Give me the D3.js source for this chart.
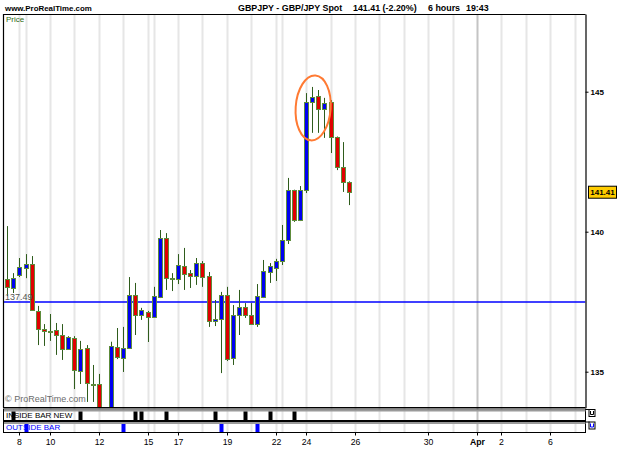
<!DOCTYPE html>
<html><head><meta charset="utf-8">
<script src="https://cdn.jsdelivr.net/npm/d3@7"></script>
<style>
body{margin:0;background:#fff}
svg{display:block}
text{font-family:"Liberation Sans",Arial,sans-serif}
</style>
</head><body>
<svg id="c" width="625" height="469"></svg>
<script>
// ---- data (6-hour GBP/JPY bars, index = bar slot) ----
const opens  = [138.31,137.99,138.45,138.70,138.85,137.17,136.53,136.45,136.49,136.31,135.81,136.20,135.03,135.85,134.56,134.56,133.45,133.30,135.88,135.49,135.85,137.74,137.03,137.13,136.95,137.67,139.78,138.35,138.31,138.78,138.52,138.42,138.88,138.42,136.81,136.88,137.74,135.49,137.03,137.31,137.03,136.70,137.67,138.56,138.70,138.95,139.70,141.49,140.42,141.49,144.63,144.85,144.38,144.63,143.38,142.31,141.78];
const highs  = [140.20,138.52,139.06,139.20,139.13,137.35,136.70,137.06,136.74,136.70,136.27,136.27,136.10,135.95,135.24,134.92,133.70,136.07,136.56,136.60,138.38,138.17,137.28,137.17,138.03,140.06,139.95,138.52,139.20,139.42,138.63,139.06,138.95,138.56,137.56,137.85,138.03,137.38,137.92,137.45,137.45,138.13,138.99,138.88,139.03,140.24,141.92,141.50,141.63,144.95,145.17,145.06,144.78,144.70,143.40,143.20,141.80];
const lows   = [137.70,137.81,138.38,138.34,137.17,135.95,135.92,136.10,135.60,135.42,135.78,134.38,134.56,133.92,133.92,133.00,132.90,133.10,135.45,134.99,135.81,136.31,136.85,136.06,136.92,137.63,137.92,137.88,138.13,137.92,137.99,138.10,138.03,136.60,136.63,134.95,135.38,135.24,136.31,136.92,136.67,136.60,137.63,138.17,138.24,138.81,139.56,140.35,140.38,141.38,143.53,143.53,143.35,142.81,142.20,141.42,140.95];
const closes = [138.03,138.35,138.74,138.85,137.20,136.53,136.45,136.44,136.31,135.81,136.24,135.06,135.81,134.60,134.54,133.30,133.25,135.92,135.52,135.85,137.74,137.03,137.20,136.95,137.70,139.78,138.35,138.33,138.81,138.49,138.42,138.88,138.38,136.81,136.88,137.74,135.45,137.03,137.31,137.03,136.70,137.70,138.60,138.78,138.95,139.70,141.49,140.42,141.49,144.63,144.81,144.38,144.60,143.38,142.31,141.78,141.41];

const dayLabels = ["8","10","12","15","17","19","22","24","26","30","Apr","2","6"];
const dayLabelSlots = [2,7,15,23,28,36,44,49,57,69,77,81,89];
const gridSlots = [2,3,7,11,15,19,23,24,28,32,36,40,44,45,49,53,57,61,65,69,73,77,81,85,89,93];
const monthSlot = 77;
const insideBars = [1,12,21,22,26,34,39,43,47];
const outsideBars = [3,19,35,41];
const priceTicks = [135,140,145];
const lastPrice = 141.41;
const levelPrice = 137.49;

// ---- layout ----
const L = 3, R = 585.5, T = 14, B = 407.5;
const svg = d3.select("#c");
const x = d3.scaleLinear().domain([-0.7, 94.8]).range([L, R]);
const y = d3.scaleLinear().domain([133.714, 147.775]).range([407.7, 14]);
const cx = i => Math.round(x(i));

const candles = opens.map((o,i)=>({i, o, h:highs[i], l:lows[i], c:closes[i]}));

// header
svg.append("text").attr("x",5).attr("y",11).attr("font-size","7.9px").attr("font-weight","bold").text("www.ProRealTime.com");
svg.append("text").attr("x",238).attr("y",11).attr("font-size","8.9px").attr("font-weight","bold").text("GBPJPY - GBP/JPY Spot");
svg.append("text").attr("x",353).attr("y",11).attr("font-size","8.9px").attr("font-weight","bold").text("141.41 (-2.20%)");
svg.append("text").attr("x",428).attr("y",11).attr("font-size","8.9px").attr("font-weight","bold").text("6 hours");
svg.append("text").attr("x",466).attr("y",11).attr("font-size","8.9px").attr("font-weight","bold").text("19:43");

// panels geometry
const p1T = 409, p1B = 420.5, p2T = 421.5, p2B = 432.5;

// gridlines
const grid = svg.append("g");
grid.selectAll("line").data(gridSlots).join("line")
  .attr("x1", d=>cx(d)+0.5).attr("x2", d=>cx(d)+0.5)
  .attr("y1", T).attr("y2", p2B)
  .attr("stroke", d=> d===monthSlot ? "#c4c4c4" : "#e6e6e6")
  .attr("stroke-width", 2);

// clip for price panel
svg.append("clipPath").attr("id","clip").append("rect")
  .attr("x",L).attr("y",T).attr("width",R-L).attr("height",B-T);
const pg = svg.append("g").attr("clip-path","url(#clip)");

// price texts
svg.append("text").attr("x",6).attr("y",22).attr("font-size","8px").attr("fill","#2f6a12").text("Price");
svg.append("text").attr("x",5).attr("y",402).attr("font-size","9px").attr("fill","#6b6b6b").text("\u00A9 ProRealTime.com");

// level line
pg.append("line").attr("x1",L).attr("x2",R).attr("y1",y(levelPrice)).attr("y2",y(levelPrice))
  .attr("stroke","#0000ff").attr("stroke-width",1.6);
svg.append("text").attr("x",5).attr("y",y(levelPrice)-2).attr("font-size","9px").attr("fill","#555").text(levelPrice.toFixed(2));

// wicks
pg.selectAll("line.wick").data(candles).join("line").attr("class","wick")
  .attr("x1", d=>cx(d.i)+0.5).attr("x2", d=>cx(d.i)+0.5)
  .attr("y1", d=>y(d.h)).attr("y2", d=>y(d.l))
  .attr("stroke","#2f5c1c").attr("stroke-width",1);
// bodies
pg.selectAll("rect.body").data(candles).join("rect").attr("class","body")
  .attr("x", d=>cx(d.i)-1.5).attr("width",4)
  .attr("y", d=>Math.round(y(Math.max(d.o,d.c)))+0.5)
  .attr("height", d=>Math.max(1, Math.round(y(Math.min(d.o,d.c)) - y(Math.max(d.o,d.c)))))
  .attr("fill", d=> d.c>=d.o ? "#0000f0" : "#e00000")
  .attr("stroke","#5e8c3c").attr("stroke-width",1);

// highlight ellipse around the top
const ecx = x(50.15), ecy = y(144.42);
svg.append("ellipse").attr("cx",ecx).attr("cy",ecy).attr("rx",17.5).attr("ry",32.5)
  .attr("transform",`rotate(4 ${ecx} ${ecy})`)
  .attr("fill","none").attr("stroke","#ff7a33").attr("stroke-width",2);

// main frame
svg.append("path").attr("d",`M${L+0.5},${B}V${T+0.5}H${R}`).attr("fill","none").attr("stroke","#000").attr("stroke-width",1.2);
svg.append("line").attr("x1",L).attr("x2",R).attr("y1",B).attr("y2",B).attr("stroke","#000").attr("stroke-width",1);

// right price axis
const ya = d3.axisRight(y).tickValues(priceTicks).tickSizeInner(3).tickSizeOuter(0).tickPadding(2).tickFormat(d3.format("d"));
const yg = svg.append("g").attr("transform",`translate(${R},0)`).call(ya);
yg.select(".domain").attr("stroke","#000").attr("stroke-width",1.2);
yg.selectAll("text").attr("font-size","8px").attr("font-weight","bold").attr("font-family","Liberation Sans, Arial, sans-serif");

// last price tag
const lpY = y(lastPrice);
svg.append("rect").attr("x",588.5).attr("y",lpY-6).attr("width",28).attr("height",12)
  .attr("fill","#ffcc00").attr("stroke","#000").attr("stroke-width",1);
svg.append("text").attr("x",602.5).attr("y",lpY+3).attr("text-anchor","middle").attr("font-size","8px").attr("font-weight","bold").text(lastPrice.toFixed(2));

// indicator panels
function panel(top, bot, title, color, slots){
  const g = svg.append("g");
  g.append("rect").attr("x",L+0.5).attr("y",top).attr("width",R-L-0.5).attr("height",bot-top).attr("fill","none").attr("stroke","#000").attr("stroke-width",1);
  g.append("line").attr("x1",L+1).attr("x2",R).attr("y1",top+1.5).attr("y2",top+1.5).attr("stroke","#9a9a9a").attr("stroke-width",2);
  g.selectAll("rect.m").data(slots).join("rect").attr("class","m")
    .attr("x", d=>cx(d)-1.5).attr("width",4).attr("y",top+2.5).attr("height",bot-top-3)
    .attr("fill",color);
  g.append("text").attr("x",6).attr("y",bot-3).attr("font-size","8px").attr("fill",color).text(title);
  // small icon at right
  g.append("path").attr("d",`M${R},${top+0.5}H${R+4}`).attr("stroke","#000").attr("fill","none");
  g.append("rect").attr("x",R+3.5).attr("y",top+0.5).attr("width",6).attr("height",7).attr("fill","#fff").attr("stroke","#000").attr("stroke-width",1);
  g.append("path").attr("d",`M${R+5},${top+2}V${top+5.5}H${R+8}V${top+2}`).attr("fill","none").attr("stroke",color).attr("stroke-width",1);
}
panel(p1T, p1B, "INSIDE BAR NEW", "#000", insideBars);
panel(p2T, p2B, "OUTSIDE BAR", "#0000ff", outsideBars);

// date axis
const xa = d3.axisBottom(x).tickValues(dayLabelSlots).tickSizeInner(3).tickSizeOuter(0).tickPadding(3)
  .tickFormat((d,k)=>dayLabels[k]);
const xg = svg.append("g").attr("transform",`translate(0.5,${p2B})`).call(xa);
xg.select(".domain").remove();
xg.selectAll(".tick").attr("transform", d=>`translate(${cx(d)},0)`);
xg.selectAll("text").attr("font-size","8.7px").attr("font-family","Liberation Sans, Arial, sans-serif")
  .attr("font-weight", (d)=> d===monthSlot ? "bold" : "normal");
</script>
</body></html>
